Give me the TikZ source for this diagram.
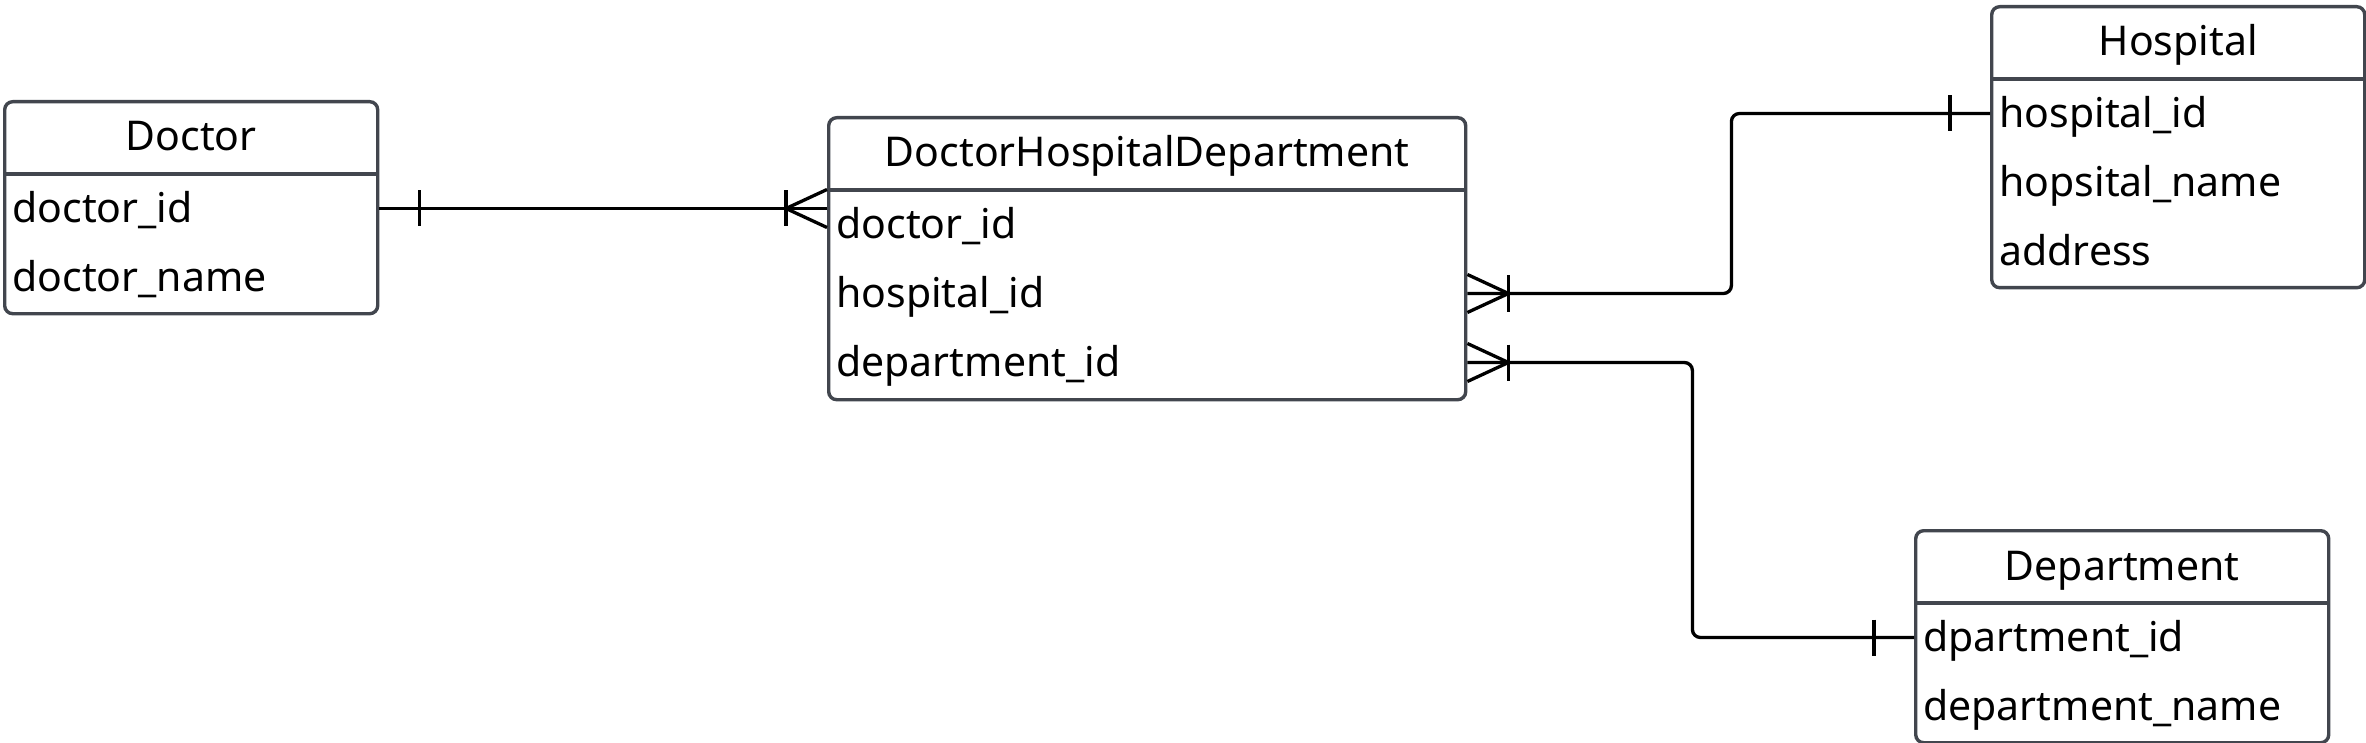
\documentclass[tikz,border=0pt]{standalone}
\usepackage{fontspec}
\setmainfont{Noto Sans}
\usetikzlibrary{calc}
\definecolor{boxgray}{RGB}{66,70,78}
\tikzstyle{entity}=[draw=boxgray, line width=1.7pt, rounded corners=4pt, inner sep=0pt, anchor=north west]
\tikzstyle{title}=[font=\fontsize{20.5}{24}\selectfont, inner sep=0pt, anchor=base]
\tikzstyle{field}=[font=\fontsize{20.5}{24}\selectfont, inner sep=0pt, anchor=west, text height=18pt, text depth=4pt]
\tikzstyle{link}=[line width=1.65pt, rounded corners=4pt]
\tikzstyle{foot}=[line width=1.65pt]
\begin{document}
\begin{tikzpicture}[x=0.5pt, y=-0.5pt]
\useasboundingbox (0,0) rectangle (2366,743);

%Entities
    \foreach \pos/\name/\w/\h/\label in {{(3,100)/doctor/373/212/Doctor}, {(827,116)/dhd/637/282/DoctorHospitalDepartment}, {(1990,5)/hospital/373/281/Hospital}, {(1914,529)/department/413/212/Department}}
    {
        \node[entity, minimum width=\w*0.5pt, minimum height=\h*0.5pt] (\name) at \pos {};
        \node[title] (\name-title) at ($(\name.north)+(0,51)$) {\label};
        \draw[boxgray, line width=1.7pt] ($(\name.north west)+(0,74)$) -- ($(\name.north east)+(0,74)$);
    }

%Fields
    \foreach \tab/\name/\row/\label in {doctor/did/1/doctor\_id, doctor/dname/2/doctor\_name, dhd/dhd-did/1/doctor\_id, dhd/dhd-hid/2/hospital\_id, dhd/dhd-pid/3/department\_id, hospital/hid/1/hospital\_id, hospital/hname/2/hopsital\_name, hospital/haddr/3/address, department/pid/1/dpartment\_id, department/pname/2/department\_name}
        \node[field] (\name) at ($(\tab.north west)+(9,39.5+69*\row)$) {\label};

%Relations
    \coordinate (d1) at (doctor.east |- did);
    \coordinate (d2) at (dhd.west |- d1);
    \coordinate (h1) at (dhd.east |- dhd-hid);
    \coordinate (h2) at (hospital.west |- hid);
    \coordinate (p1) at (dhd.east |- dhd-pid);
    \coordinate (p2) at (department.west |- pid);

    \draw[link] (d1) -- (d2);
    \draw[link] (h1) -- ++(264,0) |- (h2);
    \draw[link] (p1) -- ++(225,0) |- (p2);

    % one
    \foreach \c/\s in {d1/1, h2/-1, p2/-1}
        \draw[foot] ($(\c)+(40*\s,-18)$) -- ($(\c)+(40*\s,18)$);
    % many
    \foreach \c/\s in {d2/-1, h1/1, p1/1}
    {
        \draw[foot] ($(\c)+(41*\s,-18)$) -- ($(\c)+(41*\s,18)$);
        \draw[foot] ($(\c)+(0,-19)$) -- ($(\c)+(41*\s,0)$) -- ($(\c)+(0,19)$);
    }

\end{tikzpicture}
\end{document}
